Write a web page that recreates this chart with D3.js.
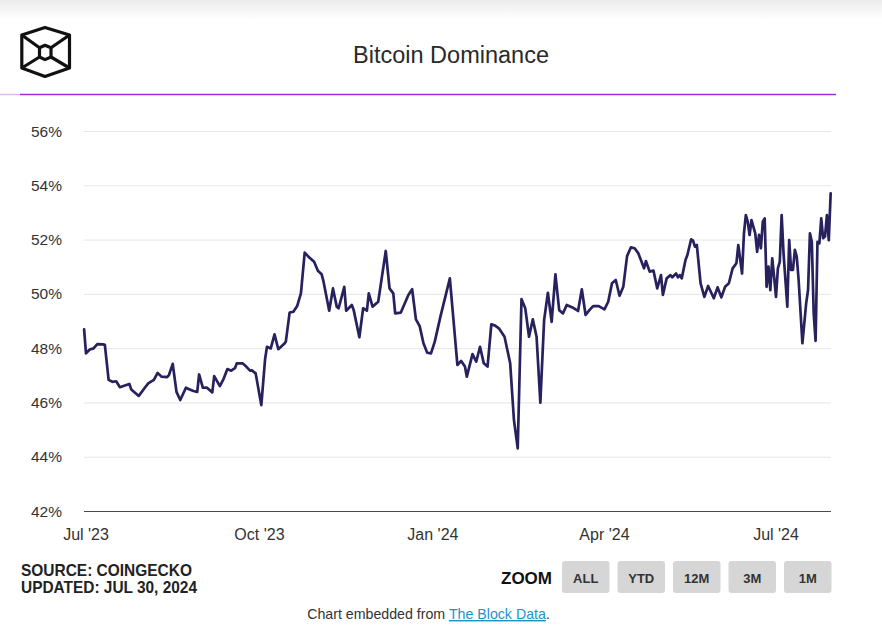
<!DOCTYPE html>
<html>
<head>
<meta charset="utf-8">
<script src="https://cdn.jsdelivr.net/npm/d3@7"></script>
<style>
  html, body { margin: 0; padding: 0; background: #ffffff; }
  svg { display: block; }
</style>
</head>
<body>
<div id="chart"></div>
<script>
const dates = [
"2023-06-30","2023-07-01","2023-07-03","2023-07-05","2023-07-07","2023-07-10","2023-07-11","2023-07-13","2023-07-15","2023-07-17",
"2023-07-19","2023-07-22","2023-07-24","2023-07-25","2023-07-27","2023-07-29","2023-08-01","2023-08-03","2023-08-06","2023-08-08",
"2023-08-10","2023-08-13","2023-08-14","2023-08-16","2023-08-18","2023-08-20","2023-08-23","2023-08-25","2023-08-27","2023-08-29",
"2023-08-30","2023-09-01","2023-09-03","2023-09-06","2023-09-07","2023-09-10","2023-09-12","2023-09-14","2023-09-16","2023-09-18",
"2023-09-19","2023-09-22","2023-09-24","2023-09-26","2023-09-27","2023-09-29","2023-10-02","2023-10-04","2023-10-05","2023-10-07",
"2023-10-09","2023-10-11","2023-10-14","2023-10-15","2023-10-17","2023-10-19","2023-10-21","2023-10-23","2023-10-25","2023-10-27",
"2023-10-30","2023-11-01","2023-11-03","2023-11-04","2023-11-07","2023-11-09","2023-11-11","2023-11-12","2023-11-15","2023-11-16",
"2023-11-19","2023-11-20","2023-11-23","2023-11-25","2023-11-27","2023-11-28","2023-11-30","2023-12-03","2023-12-07","2023-12-09",
"2023-12-11","2023-12-12","2023-12-15","2023-12-19","2023-12-21","2023-12-23","2023-12-25","2023-12-27","2023-12-29","2023-12-31",
"2024-01-02","2024-01-05","2024-01-10","2024-01-14","2024-01-16","2024-01-18","2024-01-19","2024-01-22","2024-01-24","2024-01-26",
"2024-01-28","2024-01-30","2024-02-01","2024-02-03","2024-02-05","2024-02-08","2024-02-11","2024-02-13","2024-02-15","2024-02-17",
"2024-02-19","2024-02-21","2024-02-23","2024-02-25","2024-02-27","2024-02-29","2024-03-02","2024-03-04","2024-03-06","2024-03-08",
"2024-03-10","2024-03-12","2024-03-15","2024-03-18","2024-03-20","2024-03-22","2024-03-24","2024-03-26","2024-03-29","2024-04-01",
"2024-04-03","2024-04-05","2024-04-07","2024-04-09","2024-04-11","2024-04-13","2024-04-15","2024-04-17","2024-04-19","2024-04-22",
"2024-04-23","2024-04-25","2024-04-27","2024-04-29","2024-05-01","2024-05-02","2024-05-04","2024-05-06","2024-05-07","2024-05-09",
"2024-05-10","2024-05-11","2024-05-12","2024-05-14","2024-05-15","2024-05-17","2024-05-18","2024-05-19","2024-05-20","2024-05-22",
"2024-05-24","2024-05-26","2024-05-27","2024-05-29","2024-05-31","2024-06-02","2024-06-04","2024-06-06","2024-06-08","2024-06-10",
"2024-06-11","2024-06-13","2024-06-14","2024-06-15","2024-06-16","2024-06-17","2024-06-18","2024-06-20","2024-06-21","2024-06-22",
"2024-06-23","2024-06-24","2024-06-25","2024-06-26","2024-06-27","2024-06-28","2024-06-29","2024-06-30","2024-07-01","2024-07-02",
"2024-07-03","2024-07-04","2024-07-05","2024-07-07","2024-07-08","2024-07-09","2024-07-10","2024-07-11","2024-07-12","2024-07-13",
"2024-07-15","2024-07-17","2024-07-18","2024-07-19","2024-07-20","2024-07-21","2024-07-22","2024-07-23","2024-07-24","2024-07-25",
"2024-07-26","2024-07-27","2024-07-28","2024-07-29","2024-07-30"
];
const dominance = [
48.69,47.81,47.95,47.99,48.15,48.14,48.12,46.83,46.76,46.78,
46.56,46.63,46.68,46.48,46.36,46.24,46.52,46.70,46.83,47.09,
46.95,46.93,47.01,47.42,46.39,46.09,46.54,46.48,46.42,46.39,
47.03,46.54,46.55,46.37,46.97,46.60,46.87,47.23,47.17,47.26,
47.44,47.44,47.32,47.17,47.18,47.07,45.90,47.60,48.05,47.99,
48.51,47.96,48.15,48.24,49.31,49.34,49.55,50.02,51.52,51.37,
51.18,50.85,50.72,50.45,49.38,50.20,49.53,49.47,50.26,49.38,
49.59,49.40,48.40,49.47,49.38,50.02,49.53,49.71,51.58,50.20,
50.02,49.28,49.31,49.96,50.17,49.06,48.81,48.18,47.83,47.81,
48.24,49.16,50.57,47.38,47.53,47.32,46.95,47.78,47.50,48.05,
47.44,47.32,48.88,48.83,48.73,48.42,47.44,45.35,44.31,49.81,
49.47,48.42,49.06,48.42,45.99,49.03,50.04,48.97,50.72,49.40,
49.28,49.59,49.50,49.37,50.17,49.22,49.40,49.55,49.55,49.43,
49.71,50.39,50.51,49.93,50.26,51.39,51.71,51.68,51.49,50.94,
51.21,50.82,50.86,50.20,50.69,49.96,50.57,50.69,50.61,50.75,
50.61,50.69,50.57,51.25,51.43,52.01,51.96,51.74,51.80,50.39,
49.89,50.29,50.14,49.84,50.24,49.87,50.26,50.39,50.94,51.13,
51.80,50.75,52.23,52.90,52.66,52.17,52.72,52.23,51.55,52.17,
51.68,52.66,52.78,50.26,51.00,50.14,51.31,50.63,49.89,50.94,
51.18,52.90,51.49,49.53,51.98,50.88,50.88,51.62,51.37,50.51,
48.18,49.65,50.14,52.23,51.92,49.28,48.27,51.92,51.86,52.78,
52.05,52.11,52.90,51.98,53.70
];
const yTicks = [42, 44, 46, 48, 50, 52, 54, 56];
const xTickDates = ["2023-07-01", "2023-10-01", "2024-01-01", "2024-04-01", "2024-07-01"];
const xTickLabels = ["Jul '23", "Oct '23", "Jan '24", "Apr '24", "Jul '24"];
const zoomButtons = ["ALL", "YTD", "12M", "3M", "1M"];
const titleText = "Bitcoin Dominance";
const sourceLines = ["SOURCE: COINGECKO", "UPDATED: JUL 30, 2024"];

const W = 882, H = 641;
const parse = d3.utcParse("%Y-%m-%d");
const series = dates.map((d, i) => ({ date: parse(d), value: dominance[i] }));

const svg = d3.select("#chart").append("svg")
  .attr("width", W).attr("height", H)
  .style("font-family", "'Liberation Sans', Arial, sans-serif");

// top shadow
const defs = svg.append("defs");
const g1 = defs.append("linearGradient").attr("id", "topShade").attr("x1", 0).attr("y1", 0).attr("x2", 0).attr("y2", 1);
g1.append("stop").attr("offset", "0%").attr("stop-color", "#ececec");
g1.append("stop").attr("offset", "100%").attr("stop-color", "#ffffff");
svg.append("rect").attr("x", 0).attr("y", 0).attr("width", W).attr("height", 20).attr("fill", "url(#topShade)");

// logo
const logo = svg.append("g").attr("fill", "none").attr("stroke", "#111").attr("stroke-width", 3.2).attr("stroke-linejoin", "round");
logo.append("path").attr("d", "M45,27.5 L69.5,35 L69.5,68 L45,76.5 L21.8,68 L21.8,35 Z");
logo.append("path").attr("d", "M39.5,47.8 L45,45.3 L51,47.8 L51,57 L45,59.6 L39.5,57 Z");
logo.append("path").attr("d", "M21.8,35 L39.5,47.8 M69.5,35 L51,47.8 M21.8,68 L39.5,57 M69.5,68 L51,57");

// title
svg.append("text").attr("x", 451).attr("y", 63).attr("text-anchor", "middle")
  .attr("font-size", 23.5).attr("fill", "#2a2a2a").text(titleText);

// purple rule
svg.append("line").attr("x1", 0).attr("x2", 20).attr("y1", 94.5).attr("y2", 94.5).attr("stroke", "#e2b8f2").attr("stroke-width", 1.5);
svg.append("line").attr("x1", 20).attr("x2", 836).attr("y1", 94.5).attr("y2", 94.5).attr("stroke", "#9d2ee0").attr("stroke-width", 1.5);

// scales
const x = d3.scaleUtc().domain([parse("2023-07-01"), parse("2024-07-01")]).range([86, 776]);
const y = d3.scaleLinear().domain([42, 56]).range([511, 131]);
const plotL = 84, plotR = 831;

// gridlines
svg.append("g").selectAll("line").data(yTicks.filter(t => t !== 42)).join("line")
  .attr("x1", plotL).attr("x2", plotR)
  .attr("y1", d => y(d) + 0.5).attr("y2", d => y(d) + 0.5)
  .attr("stroke", "#e6e6e6").attr("stroke-width", 1);

// baseline
svg.append("line").attr("x1", plotL).attr("x2", plotR).attr("y1", y(42) + 0.5).attr("y2", y(42) + 0.5)
  .attr("stroke", "#4a4a4a").attr("stroke-width", 1.2);

// y labels
svg.append("g").selectAll("text").data(yTicks).join("text")
  .attr("x", 62).attr("y", d => y(d) + 5.5).attr("text-anchor", "end")
  .attr("font-size", 15.5).attr("fill", "#333").text(d => d + "%");

// x labels
svg.append("g").selectAll("text").data(xTickDates).join("text")
  .attr("x", d => x(parse(d))).attr("y", 540).attr("text-anchor", "middle")
  .attr("font-size", 16).attr("fill", "#333").text((d, i) => xTickLabels[i]);

// line
const line = d3.line().x(d => x(d.date)).y(d => y(d.value));
svg.append("path").datum(series).attr("d", line)
  .attr("fill", "none").attr("stroke", "#27215e").attr("stroke-width", 2.7)
  .attr("stroke-linejoin", "round").attr("stroke-linecap", "round");

// source
svg.append("g").selectAll("text").data(sourceLines).join("text")
  .attr("x", 21).attr("y", (d, i) => 576 + i * 17)
  .attr("font-size", 16.5).attr("font-weight", "bold").attr("fill", "#222")
  .attr("textLength", (d, i) => i === 0 ? 171 : 176).attr("lengthAdjust", "spacingAndGlyphs")
  .text(d => d);

// zoom
svg.append("text").attr("x", 501).attr("y", 583.5).attr("font-size", 16).attr("font-weight", "bold")
  .attr("fill", "#111").attr("textLength", 51).attr("lengthAdjust", "spacingAndGlyphs").text("ZOOM");
const btn = svg.append("g").selectAll("g").data(zoomButtons).join("g")
  .attr("transform", (d, i) => `translate(${562 + i * 55.5},561)`);
btn.append("rect").attr("width", 47.5).attr("height", 32).attr("rx", 3).attr("fill", "#d6d6d6");
btn.append("text").attr("x", 23.75).attr("y", 21.5).attr("text-anchor", "middle")
  .attr("font-size", 13).attr("font-weight", "bold").attr("fill", "#333").text(d => d);

// footer
const foot = svg.append("text").attr("x", 428.5).attr("y", 619).attr("text-anchor", "middle")
  .attr("font-size", 14.2).attr("fill", "#333");
foot.append("tspan").text("Chart embedded from ");
foot.append("tspan").attr("fill", "#1b95c9").attr("text-decoration", "underline").text("The Block Data");
foot.append("tspan").text(".");
</script>
</body>
</html>
